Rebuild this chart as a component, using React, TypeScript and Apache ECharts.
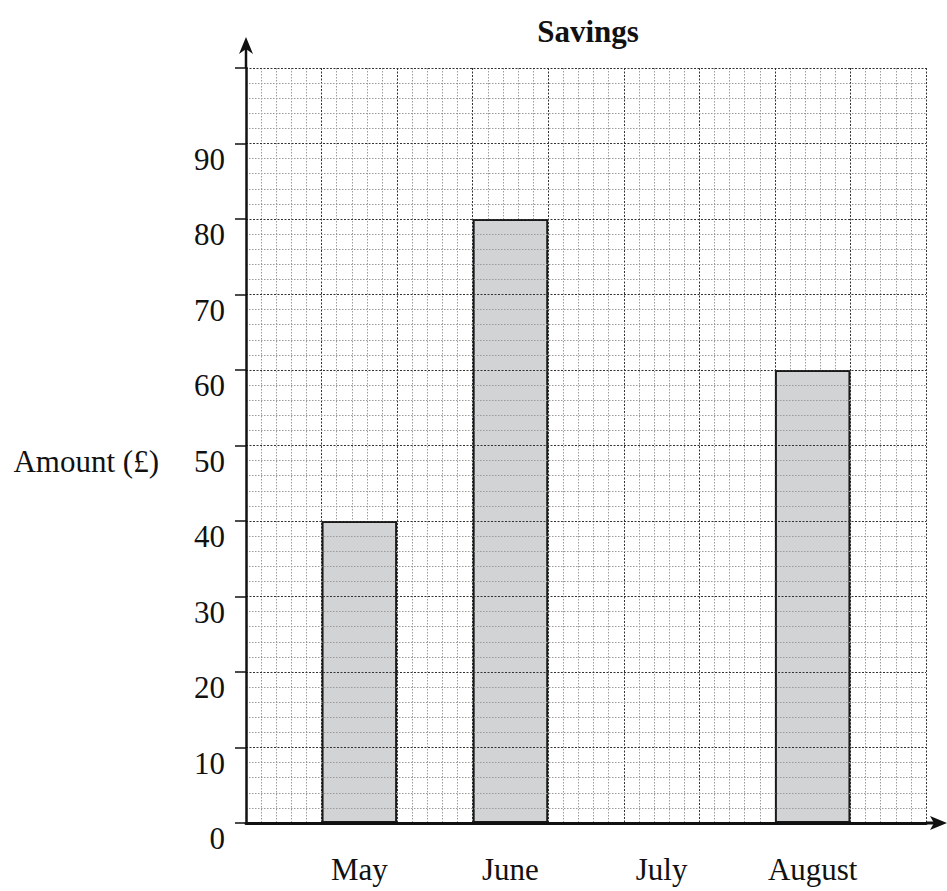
import React, { useEffect, useRef } from "react";
import * as echarts from "echarts";

const months = ["May", "June", "July", "August"];
const amounts: (number | null)[] = [40, 80, null, 60];
const yTicks = [0, 10, 20, 30, 40, 50, 60, 70, 80, 90];
const titleText = "Savings";
const yName = "Amount (£)";

const W = 947;
const H = 891;
const GL = 246;
const GT = 68;
const GW = 680;
const GH = 755;
const FONT = "Liberation Serif";
const FS = 31;

export default function App() {
  const ref = useRef<HTMLDivElement>(null);
  useEffect(() => {
    if (!ref.current) return;
    const chart = echarts.init(ref.current, undefined, { renderer: "svg" });
    // 9 cells: labels/bars in the odd cells
    const slots: string[] = [];
    const vals: (number | string)[] = [];
    for (let i = 0; i < 9; i++) {
      if (i % 2 === 1 && (i - 1) / 2 < months.length) {
        const k = (i - 1) / 2;
        slots.push(months[k]);
        vals.push(amounts[k] == null ? "-" : (amounts[k] as number));
      } else {
        slots.push("");
        vals.push("-");
      }
    }
    const gb = GT + GH;
    const gr = GL + GW;
    chart.setOption({
      animation: false,
      title: {
        text: titleText,
        left: 583,
        top: 11,
        textAlign: "center",
        textStyle: { fontFamily: FONT, fontSize: FS, fontWeight: "bold", color: "#111" },
      },
      grid: { left: GL, top: GT, width: GW, height: GH, containLabel: false },
      xAxis: [
        {
          type: "category",
          data: slots,
          position: "bottom",
          boundaryGap: true,
          axisLine: { show: true, lineStyle: { color: "#111", width: 3 } },
          axisTick: { show: false },
          axisLabel: {
            interval: 0,
            margin: 31,
            fontFamily: FONT,
            fontSize: FS,
            color: "#111",
          },
          splitLine: { show: false },
          z: 5,
        },
        {
          type: "value",
          min: 0,
          max: 9,
          interval: 1,
          position: "bottom",
          axisLine: { show: false },
          axisTick: { show: false },
          axisLabel: { show: false },
          minorTick: { show: false, splitNumber: 5 },
          splitLine: { show: true, lineStyle: { color: "#333", width: 1, type: [2, 1.5] } },
          minorSplitLine: { show: true, lineStyle: { color: "#9a9a9a", width: 1, type: [1.5, 1.5] } },
        },
      ],
      yAxis: {
        type: "value",
        min: 0,
        max: 100,
        interval: 10,
        name: yName,
        nameLocation: "middle",
        nameRotate: 0,
        nameGap: 87,
        nameTextStyle: { fontFamily: FONT, fontSize: FS, color: "#111", verticalAlign: "top" },
        axisLine: { show: true, lineStyle: { color: "#111", width: 2.5 } },
        axisTick: { show: true, length: 11, lineStyle: { color: "#111", width: 1.5 } },
        axisLabel: {
          margin: 21,
          verticalAlign: "top",
          fontFamily: FONT,
          fontSize: FS,
          color: "#111",
          formatter: (v: number) => (yTicks.includes(v) ? String(v) : ""),
        },
        minorTick: { show: false, splitNumber: 5 },
        splitLine: { show: true, lineStyle: { color: "#333", width: 1, type: [2, 1.5] } },
        minorSplitLine: { show: true, lineStyle: { color: "#9a9a9a", width: 1, type: [1.5, 1.5] } },
        z: 5,
      },
      series: [
        {
          type: "bar",
          xAxisIndex: 0,
          data: vals,
          barWidth: "100%",
          itemStyle: { color: "#d1d3d4", borderColor: "#1a1a1a", borderWidth: 2 },
          z: 3,
        },
      ],
      graphic: [
        { type: "line", shape: { x1: GL, y1: GT, x2: GL, y2: 48 }, style: { stroke: "#111", lineWidth: 2.5 }, z: 10 },
        { type: "polygon", shape: { points: [[GL, 37], [GL + 7, 54], [GL, 49], [GL - 7, 54]] }, style: { fill: "#111" }, z: 10 },
        { type: "line", shape: { x1: gr, y1: gb, x2: 938, y2: gb }, style: { stroke: "#111", lineWidth: 3 }, z: 10 },
        { type: "polygon", shape: { points: [[947, gb], [930, gb - 7], [934, gb], [930, gb + 7]] }, style: { fill: "#111" }, z: 10 },
      ],
    });
    return () => chart.dispose();
  }, []);
  return <div ref={ref} style={{ position: "fixed", left: 0, top: 0, width: W, height: H, background: "#fff" }} />;
}
